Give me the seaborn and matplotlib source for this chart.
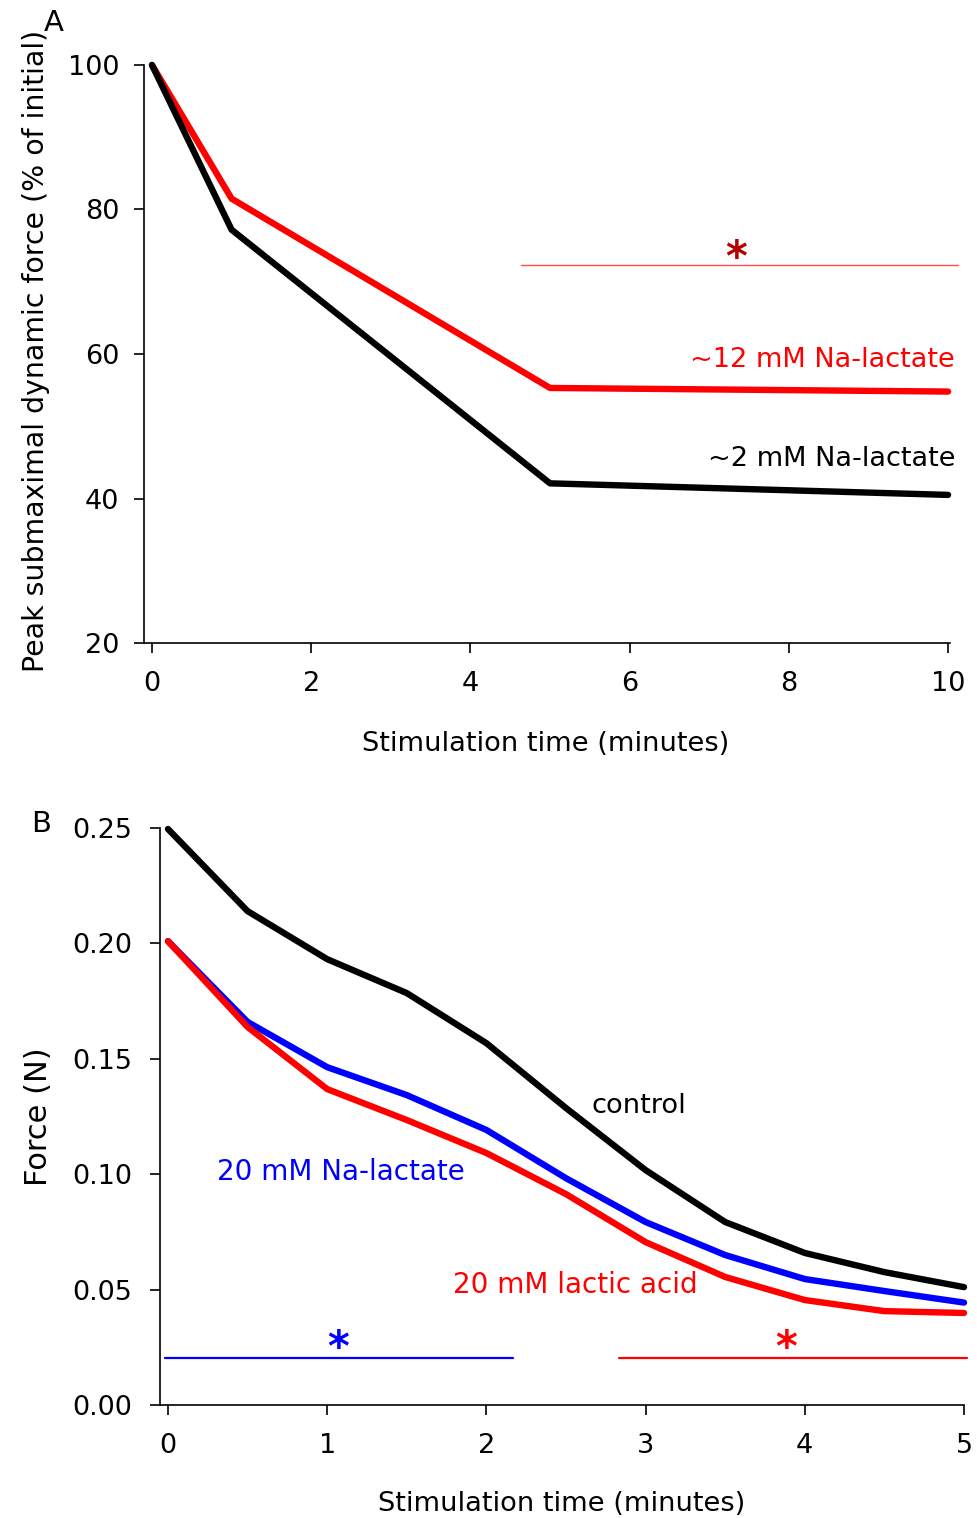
import numpy as np
import pandas as pd
import seaborn as sns
import matplotlib.pyplot as plt
from matplotlib.ticker import FormatStrFormatter

# panel A: peak submaximal dynamic force (% of initial)
time_a = [0, 1, 5, 10]
force_a_12mm = [100, 81.5, 55.3, 54.8]
force_a_2mm = [100, 77.2, 42.1, 40.5]

# panel B: force (N) every 30 s
time_b = [0, 0.5, 1, 1.5, 2, 2.5, 3, 3.5, 4, 4.5, 5]
force_control = [0.2496, 0.214, 0.1932, 0.1785, 0.1568, 0.1287, 0.1018, 0.0793, 0.0659, 0.0576, 0.0511]
force_na_lactate = [0.201, 0.166, 0.1464, 0.1343, 0.1192, 0.0983, 0.0793, 0.0650, 0.0546, 0.0494, 0.0444]
force_lactic_acid = [0.201, 0.1638, 0.1369, 0.1235, 0.1092, 0.0914, 0.0706, 0.0555, 0.0455, 0.0407, 0.0399]


def long_frame(x, series):
    """Stack named series into a long table for seaborn."""
    rows = []
    for name, values in series.items():
        for t, v in zip(x, values):
            rows.append({'time': t, 'force': v, 'group': name})
    return pd.DataFrame(rows)


def style_axis(ax):
    ax.spines['top'].set_visible(False)
    ax.spines['right'].set_visible(False)
    ax.tick_params(axis='both', direction='out', length=7, width=1.2,
                   labelsize=19.5, colors='black')
    ax.tick_params(axis='x', pad=13)
    ax.tick_params(axis='y', pad=11)
    for s in ('left', 'bottom'):
        ax.spines[s].set_linewidth(1.2)
        ax.spines[s].set_color('black')


sns.set_style('ticks')
plt.rcParams['font.family'] = ['DejaVu Sans']
plt.rcParams['axes.labelcolor'] = 'black'
plt.rcParams['text.color'] = 'black'

fig = plt.figure(figsize=(9.77, 15.18), dpi=100)

# ---- panel A ----
ax_a = fig.add_axes([0.1474, 0.5764, 0.8246, 0.3808])
df_a = long_frame(time_a, {'~12 mM Na-lactate': force_a_12mm,
                           '~2 mM Na-lactate': force_a_2mm})
sns.lineplot(data=df_a, x='time', y='force', hue='group',
             palette={'~12 mM Na-lactate': '#ff0000', '~2 mM Na-lactate': '#000000'},
             linewidth=4.6, legend=False, ax=ax_a, clip_on=False,
             solid_capstyle='round')
ax_a.set_xlim(-0.1, 10.02)
ax_a.set_ylim(20, 100)
ax_a.set_xticks([0, 2, 4, 6, 8, 10])
ax_a.set_yticks([20, 40, 60, 80, 100])
style_axis(ax_a)
ax_a.set_xlabel('Stimulation time (minutes)', fontsize=19.6)
ax_a.set_ylabel('Peak submaximal dynamic force (% of initial)', fontsize=20.4)
ax_a.xaxis.set_label_coords(0.498, -0.152)
ax_a.yaxis.set_label_coords(-0.117, 0.505)

# significance bar
ax_a.plot([4.63, 10.12], [72.3, 72.3], color='#ff4d4d', lw=1.0, clip_on=False)
ax_a.text(7.34, 71.5, '*', color='#b00000', fontsize=30, fontweight='bold',
          ha='center', va='baseline')
ax_a.text(10.09, 59.2, '~12 mM Na-lactate', color='#ff0000', fontsize=19.5,
          ha='right', va='center')
ax_a.text(10.09, 45.5, '~2 mM Na-lactate', color='black', fontsize=19.5,
          ha='right', va='center')
fig.text(54 / 977, 1 - 23 / 1518, 'A', fontsize=21, ha='center', va='center')

# ---- panel B ----
ax_b = fig.add_axes([0.1638, 0.0744, 0.8229, 0.3801])
df_b = long_frame(time_b, {'control': force_control,
                           '20 mM Na-lactate': force_na_lactate,
                           '20 mM lactic acid': force_lactic_acid})
sns.lineplot(data=df_b, x='time', y='force', hue='group',
             palette={'control': '#000000', '20 mM Na-lactate': '#0000ff',
                      '20 mM lactic acid': '#ff0000'},
             linewidth=4.6, legend=False, ax=ax_b, clip_on=False,
             solid_capstyle='round')
ax_b.set_xlim(-0.05, 5.0)
ax_b.set_ylim(0, 0.25)
ax_b.set_xticks([0, 1, 2, 3, 4, 5])
ax_b.set_yticks([0, 0.05, 0.10, 0.15, 0.20, 0.25])
ax_b.yaxis.set_major_formatter(FormatStrFormatter('%.2f'))
style_axis(ax_b)
ax_b.tick_params(axis='y', pad=13)
ax_b.set_xlabel('Stimulation time (minutes)', fontsize=19.6)
ax_b.set_ylabel('Force (N)', fontsize=22)
ax_b.xaxis.set_label_coords(0.5, -0.149)
ax_b.yaxis.set_label_coords(-0.133, 0.50)

# significance bars
ax_b.plot([-0.02, 2.17], [0.0204, 0.0204], color='#0000ff', lw=1.6, clip_on=False)
ax_b.plot([2.83, 5.02], [0.0204, 0.0204], color='#ff0000', lw=1.6, clip_on=False)
ax_b.text(1.07, 0.0190, '*', color='#0000ff', fontsize=30, fontweight='bold',
          ha='center', va='baseline')
ax_b.text(3.88, 0.0190, '*', color='#ff0000', fontsize=30, fontweight='bold',
          ha='center', va='baseline')
ax_b.text(2.66, 0.1296, 'control', color='black', fontsize=19.6, va='center')
ax_b.text(0.31, 0.101, '20 mM Na-lactate', color='#0000ff', fontsize=20, va='center')
ax_b.text(1.79, 0.052, '20 mM lactic acid', color='#ff0000', fontsize=20, va='center')
fig.text(41 / 977, 1 - 824 / 1518, 'B', fontsize=21, ha='center', va='center')

fig.savefig('out.png', dpi=100)
